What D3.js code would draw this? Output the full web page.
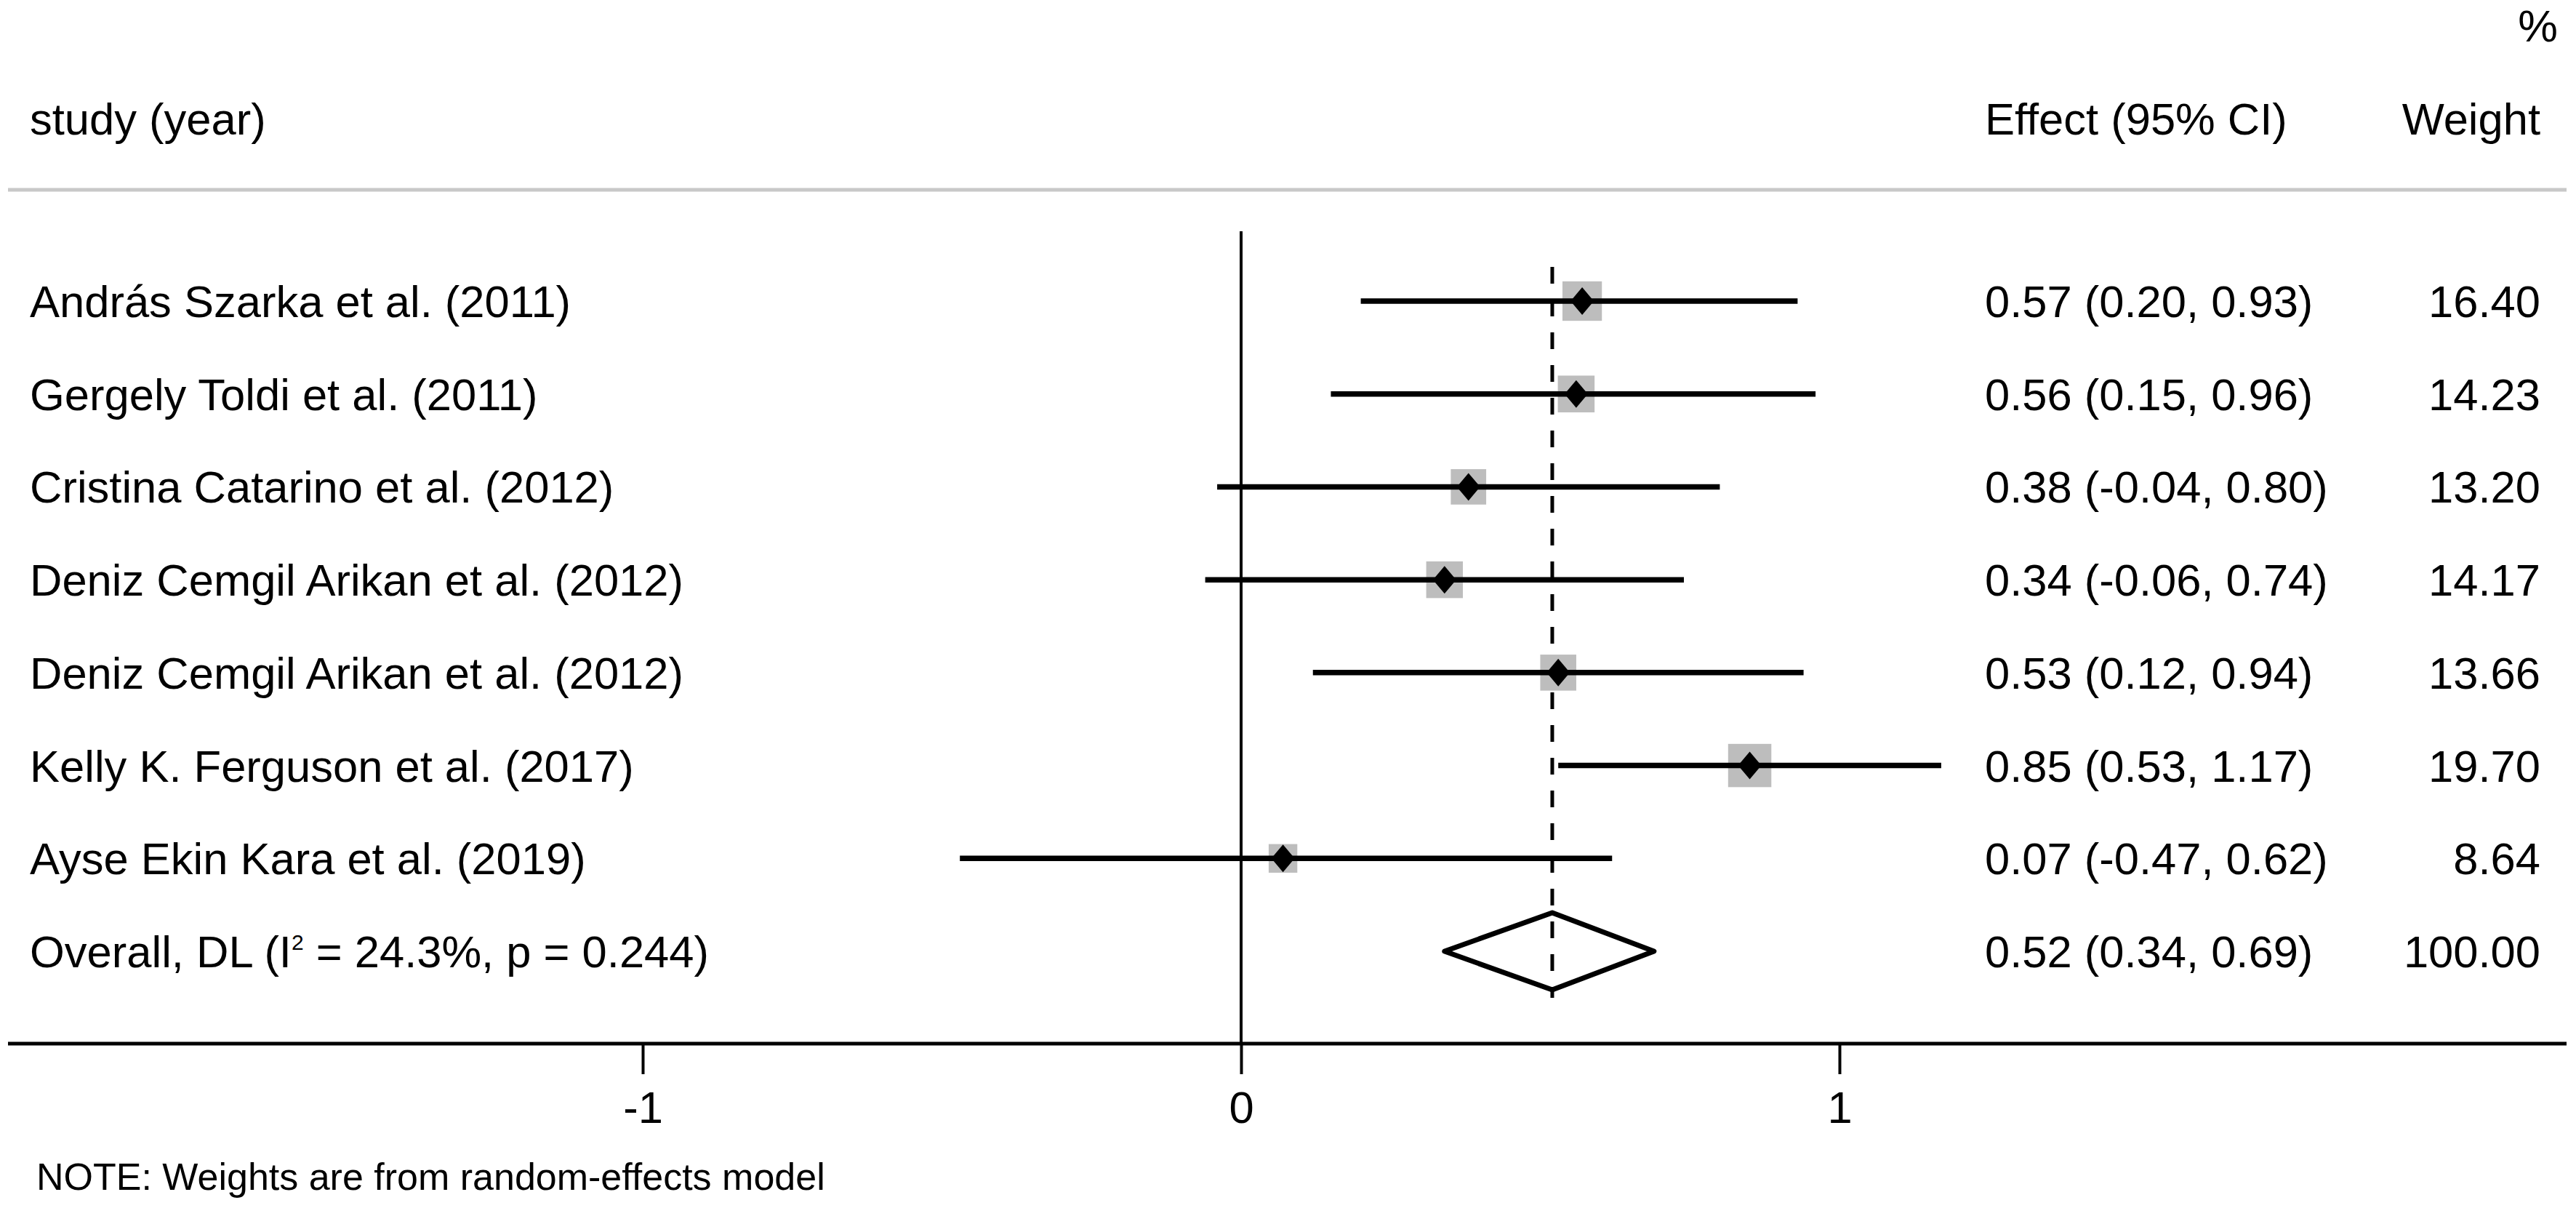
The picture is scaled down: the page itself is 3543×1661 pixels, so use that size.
<!DOCTYPE html>
<html><head><meta charset="utf-8">
<script src="https://cdn.jsdelivr.net/npm/d3@7"></script>
<style>
html,body{margin:0;padding:0;background:#fff;}
text{font-family:"Liberation Sans",Arial,Helvetica,sans-serif;fill:#000;}
</style></head>
<body><svg id="c" width="3543" height="1661"></svg>
<script>
const studies = ["András Szarka et al. (2011)","Gergely Toldi et al. (2011)","Cristina Catarino et al. (2012)","Deniz Cemgil Arikan et al. (2012)","Deniz Cemgil Arikan et al. (2012)","Kelly K. Ferguson et al. (2017)","Ayse Ekin Kara et al. (2019)"];
const effects = [0.57,0.56,0.38,0.34,0.53,0.85,0.07];
const lower   = [0.20,0.15,-0.04,-0.06,0.12,0.53,-0.47];
const upper   = [0.93,0.96,0.80,0.74,0.94,1.17,0.62];
const weights = [16.40,14.23,13.20,14.17,13.66,19.70,8.64];
const overall = {label:"Overall, DL (I", sup:"2", rest:" = 24.3%, p = 0.244)", effect:0.52, lower:0.34, upper:0.69, weight:100.00};
const xTicks = [-1,0,1];
const xTickLabels = ["-1","0","1"];

const svg = d3.select("#c");
const FS = 61.5;
const x = d3.scaleLinear().domain([-1,1]).range([884,2530]);
const rows = studies.map((s,i)=>i);
const y = d3.scalePoint().domain(d3.range(studies.length+1)).range([414,1308]);
const fmt = v => v.toFixed(2);

// header
svg.append("text").attr("x",3518).attr("y",57).attr("text-anchor","end").attr("font-size",FS).text("%");
svg.append("text").attr("x",41).attr("y",185).attr("font-size",FS).text("study (year)");
svg.append("text").attr("x",2730).attr("y",185).attr("font-size",FS).text("Effect (95% CI)");
svg.append("text").attr("x",3494).attr("y",185).attr("text-anchor","end").attr("font-size",FS).text("Weight");
svg.append("line").attr("x1",11).attr("x2",3530).attr("y1",261).attr("y2",261).attr("stroke","#c8c8c8").attr("stroke-width",5);

// null line
svg.append("line").attr("x1",x(0)).attr("x2",x(0)).attr("y1",318).attr("y2",1435).attr("stroke","#000").attr("stroke-width",4);
// overall dashed line
svg.append("line").attr("x1",x(overall.effect)).attr("x2",x(overall.effect)).attr("y1",367).attr("y2",1372)
  .attr("stroke","#000").attr("stroke-width",5).attr("stroke-dasharray","23,22");

// gray boxes
const side = w => 13.4*Math.sqrt(w);
svg.selectAll("rect.box").data(rows).enter().append("rect").attr("class","box")
  .attr("x",i=>x(effects[i])-side(weights[i])/2).attr("y",i=>y(i)-side(weights[i])/2)
  .attr("width",i=>side(weights[i])).attr("height",i=>side(weights[i])).attr("fill","#bdbdbd");
// CI lines
svg.selectAll("line.ci").data(rows).enter().append("line").attr("class","ci")
  .attr("x1",i=>x(lower[i])).attr("x2",i=>x(upper[i])).attr("y1",i=>y(i)).attr("y2",i=>y(i))
  .attr("stroke","#000").attr("stroke-width",7.5);
// point diamonds
svg.selectAll("path.pt").data(rows).enter().append("path").attr("class","pt")
  .attr("d",i=>{const cx=x(effects[i]),cy=y(i),hw=16,hh=19;return `M${cx},${cy-hh}L${cx+hw},${cy}L${cx},${cy+hh}L${cx-hw},${cy}Z`;})
  .attr("fill","#000");

// overall diamond
const oy = y(studies.length);
svg.append("path").attr("d",`M${x(overall.lower)},${oy}L${x(overall.effect)},${oy-53}L${x(overall.upper)},${oy}L${x(overall.effect)},${oy+53}Z`)
  .attr("fill","none").attr("stroke","#000").attr("stroke-width",7).attr("stroke-linejoin","round");

// row texts
svg.selectAll("text.lab").data(rows).enter().append("text").attr("class","lab")
  .attr("x",41).attr("y",i=>y(i)+22).attr("font-size",FS).text(i=>studies[i]);
svg.selectAll("text.eff").data(rows).enter().append("text").attr("class","eff")
  .attr("x",2730).attr("y",i=>y(i)+22).attr("font-size",FS)
  .text(i=>`${fmt(effects[i])} (${fmt(lower[i])}, ${fmt(upper[i])})`);
svg.selectAll("text.wt").data(rows).enter().append("text").attr("class","wt")
  .attr("x",3494).attr("y",i=>y(i)+22).attr("text-anchor","end").attr("font-size",FS).text(i=>fmt(weights[i]));

const ot = svg.append("text").attr("x",41).attr("y",oy+22).attr("font-size",FS);
ot.append("tspan").text(overall.label);
ot.append("tspan").attr("font-size",30).attr("dy",-24).text(overall.sup);
ot.append("tspan").attr("dy",24).text(overall.rest);
svg.append("text").attr("x",2730).attr("y",oy+22).attr("font-size",FS)
  .text(`${fmt(overall.effect)} (${fmt(overall.lower)}, ${fmt(overall.upper)})`);
svg.append("text").attr("x",3494).attr("y",oy+22).attr("text-anchor","end").attr("font-size",FS).text(fmt(overall.weight));

// axis
svg.append("line").attr("x1",11).attr("x2",3530).attr("y1",1435).attr("y2",1435).attr("stroke","#000").attr("stroke-width",5);
const ax = svg.append("g").attr("transform","translate(0,1435)")
  .call(d3.axisBottom(x).tickValues(xTicks).tickFormat((d,i)=>xTickLabels[i]).tickSize(42).tickPadding(23));
ax.select(".domain").remove();
ax.selectAll(".tick line").attr("stroke","#000").attr("stroke-width",4);
ax.selectAll(".tick text").attr("font-size",FS).attr("font-family","Liberation Sans, Arial, sans-serif").attr("fill","#000");

// note
svg.append("text").attr("x",50).attr("y",1636).attr("font-size",52).text("NOTE: Weights are from random-effects model");
</script></body></html>
